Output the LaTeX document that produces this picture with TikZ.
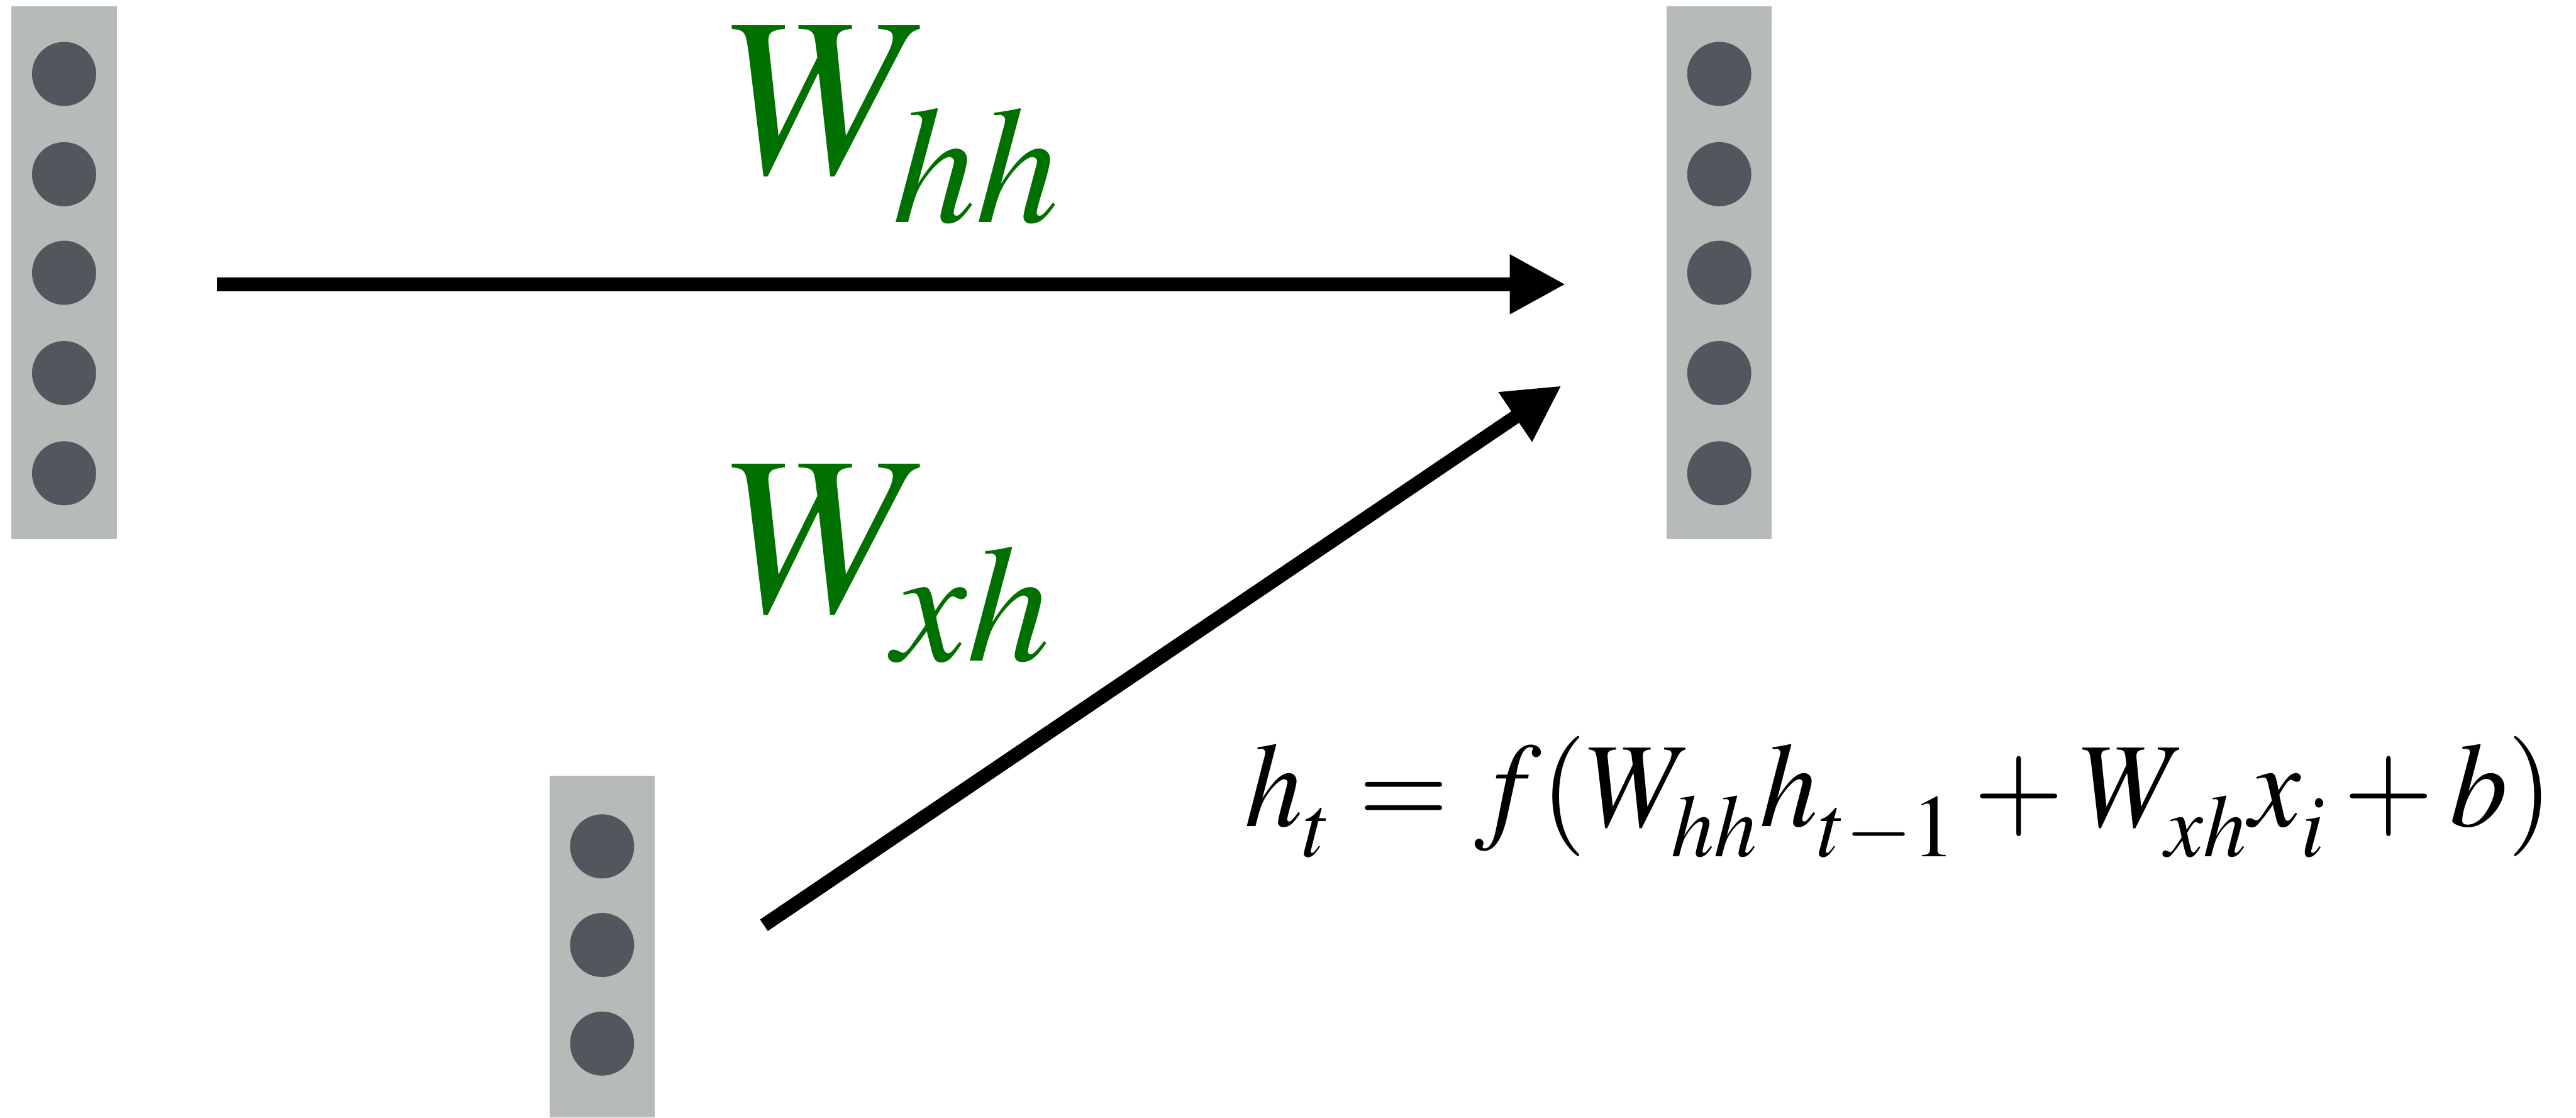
\documentclass[tikz,border=0pt]{standalone}
\usepackage{mathptmx}
\usepackage{graphicx}
\usepackage{tikz}
\usetikzlibrary{arrows.meta,positioning,calc}
\definecolor{cellgray}{RGB}{182,186,185}
\definecolor{unitgray}{RGB}{82,87,93}
\definecolor{weightgreen}{RGB}{0,112,0}
\newcommand{\lowsubs}[1]{\fontdimen16\textfont2=#1em\relax}

\begin{document}
\begin{tikzpicture}[x=0.01cm, y=-0.01cm,
    layer/.style={fill=cellgray, inner sep=0pt, minimum width=0.64cm},
    weight/.style={line width=2.4pt, arrows={-Triangle[length=0.34cm,width=0.34cm]}},
    wlabel/.style={text=weightgreen, font=\fontsize{39}{44}\selectfont, inner sep=0pt, anchor=base west}]
  \useasboundingbox (0,0) rectangle (1568,680);

  % hidden layers h_{t-1} and h_t
  \node[layer, minimum height=3.24cm] (hprev) at (39,166) {};
  \node[layer, minimum height=3.24cm] (hcur) at (1046.5,166) {};
  % input layer x_i
  \node[layer, minimum height=2.08cm] (xin) at (366.5,576) {};

  % units
  \foreach \y in {45,106,166,227,288} {
    \fill[unitgray] (39,\y) circle[radius=0.195cm];
    \fill[unitgray] (1046.5,\y) circle[radius=0.195cm];
  }
  \foreach \y in {515,575,635}
    \fill[unitgray] (366.5,\y) circle[radius=0.195cm];

  % weights
  \coordinate (hhtail) at (132,173);
  \coordinate (hhhead) at (953,173);
  \draw[weight] (hhtail) -- (hhhead);
  \coordinate (xhtail) at (465,563);
  \coordinate (xhhead) at (950.5,234.7);
  \draw[weight] (xhtail) -- (xhhead);

  \node[wlabel] (whh) at (442,105) {$\lowsubs{0.22}W_{hh}$};
  \node[wlabel] (wxh) at (442,372) {$\lowsubs{0.22}W_{xh}$};

  % recurrence
  \node[font=\fontsize{20.8}{24}\selectfont, inner sep=0pt, anchor=base west] (rnn)
    at (757,503) {\medmuskip=2.5mu \thickmuskip=4mu
      \scalebox{0.965}[1]{$\lowsubs{0.25}h_t = f(W_{hh}h_{t-1} + W_{xh}x_i + b)$}};
\end{tikzpicture}
\end{document}
